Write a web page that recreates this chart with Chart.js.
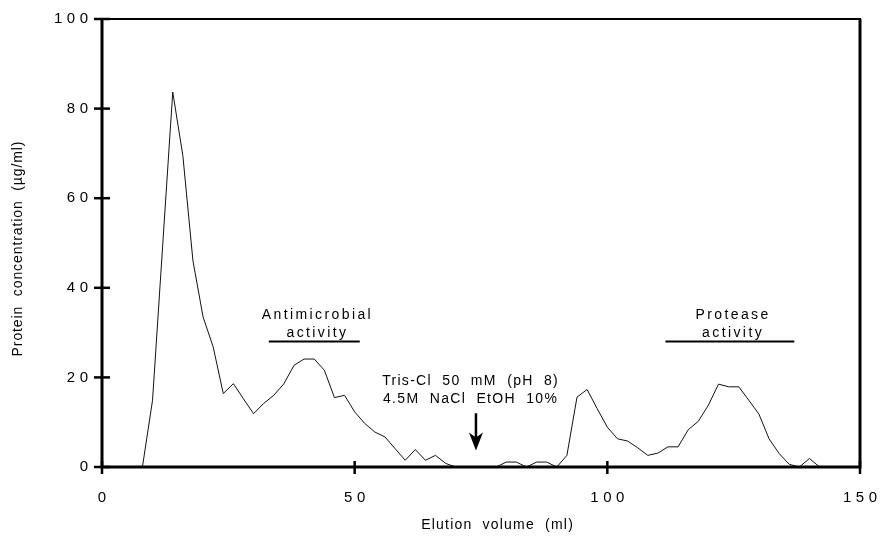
<!DOCTYPE html>
<html>
<head>
<meta charset="utf-8">
<script src="https://cdn.jsdelivr.net/npm/chart.js@4.4.0/dist/chart.umd.min.js"></script>
<style>
  html, body { margin: 0; padding: 0; background: #fff; }
</style>
</head>
<body>
<canvas id="elutionChart" width="885" height="538"></canvas>
<script>
// elution profile
const volumes = [8, 10, 12, 14, 16, 18, 20, 22, 24, 26, 28, 30, 32, 34, 36, 38, 40, 42, 44, 46,
    48, 50, 52, 54, 56, 58, 60, 62, 64, 66, 68, 70, 72, 74, 76, 78, 80, 82, 84, 86,
    88, 90, 92, 94, 96, 98, 100, 102, 104, 106, 108, 110, 112, 114, 116, 118, 120, 122, 124, 126,
    128, 130, 132, 134, 136, 138, 140, 142];
const protein = [0, 14.9, 49.3, 83.7, 69.5, 46, 33.5, 26.8, 16.4, 18.6, 15.2, 11.9, 14.2, 16, 18.6, 22.7, 24.1, 24.1, 21.6, 15.5,
    16, 12.3, 9.7, 7.8, 6.7, 4.1, 1.5, 3.9, 1.5, 2.6, 0.8, 0, 0, 0, 0, 0, 1.1, 1.1, 0, 1.1,
    1.1, 0, 2.6, 15.6, 17.3, 13, 8.9, 6.3, 5.8, 4.3, 2.6, 3.1, 4.5, 4.5, 8.3, 10.2, 13.8, 18.5, 17.9, 17.9,
    14.9, 11.8, 6.3, 3, 0.6, 0, 1.9, 0];

const xTicks = [0, 50, 100, 150];
const yTicks = [0, 20, 40, 60, 80, 100];

const activityNames = [['Antimicrobial', 'activity'], ['Protease', 'activity']];
const activityFrom = [33, 111.5];
const activityTo = [51, 137];

const bufferLines = ['Tris-Cl  50  mM  (pH  8)', '4.5M  NaCl  EtOH  10%'];
const bufferVolume = 74;

function spacedText(ctx, text, x, y, spacing, align) {
    ctx.letterSpacing = spacing + 'px';
    const w = ctx.measureText(text).width - spacing;
    let sx = x;
    if (align === 'center') sx = x - w / 2;
    if (align === 'right') sx = x - w;
    ctx.textAlign = 'left';
    ctx.fillText(text, sx, y);
    ctx.letterSpacing = '0px';
}

const figurePlugin = {
    id: 'figure',
    afterDraw(chart) {
        const ctx = chart.ctx;
        const a = chart.chartArea;
        const xs = chart.scales.x;
        const ys = chart.scales.y;
        ctx.save();
        ctx.strokeStyle = '#000';
        ctx.fillStyle = '#000';

        // frame
        ctx.lineWidth = 3;
        ctx.beginPath();
        ctx.moveTo(a.left, a.top);
        ctx.lineTo(a.left, a.bottom);
        ctx.lineTo(a.right, a.bottom);
        ctx.lineTo(a.right, a.top);
        ctx.stroke();
        ctx.lineWidth = 2;
        ctx.beginPath();
        ctx.moveTo(a.left - 1, a.top);
        ctx.lineTo(a.right + 1, a.top);
        ctx.stroke();

        // ticks crossing the axes
        ctx.lineWidth = 2.5;
        xTicks.forEach(v => {
            const px = xs.getPixelForValue(v);
            ctx.beginPath();
            ctx.moveTo(px, a.bottom - 6);
            ctx.lineTo(px, a.bottom + 7);
            ctx.stroke();
        });
        yTicks.forEach(v => {
            const py = ys.getPixelForValue(v);
            ctx.beginPath();
            ctx.moveTo(a.left - 8, py);
            ctx.lineTo(a.left + 8, py);
            ctx.stroke();
        });

        // tick labels
        ctx.font = '15px "Liberation Sans", Arial, sans-serif';
        ctx.textBaseline = 'middle';
        yTicks.forEach(v => {
            spacedText(ctx, String(v), a.left - 14, ys.getPixelForValue(v), 4.5, 'right');
        });
        xTicks.forEach(v => {
            spacedText(ctx, String(v), xs.getPixelForValue(v), a.bottom + 31, 4.5, 'center');
        });

        // axis titles
        ctx.font = '14px "Liberation Sans", Arial, sans-serif';
        spacedText(ctx, 'Elution  volume  (ml)', (a.left + a.right) / 2 + 16, a.bottom + 58, 1.2, 'center');
        ctx.save();
        ctx.translate(18, (a.top + a.bottom) / 2 + 6);
        ctx.rotate(-Math.PI / 2);
        spacedText(ctx, 'Protein  concentration  (\u00b5g/ml)', 0, 0, 0.9, 'center');
        ctx.restore();

        // activity bands
        ctx.font = '14px "Liberation Sans", Arial, sans-serif';
        activityNames.forEach((lines, i) => {
            const x1 = xs.getPixelForValue(activityFrom[i]);
            const x2 = xs.getPixelForValue(activityTo[i]);
            const yb = ys.getPixelForValue(28);
            ctx.lineWidth = 2;
            ctx.beginPath();
            ctx.moveTo(x1, yb);
            ctx.lineTo(x2, yb);
            ctx.stroke();
            const cx = (x1 + x2) / 2 + 2;
            spacedText(ctx, lines[0], cx, yb - 26, 2.4, 'center');
            spacedText(ctx, lines[1], cx, yb - 8, 2.4, 'center');
        });

        // buffer change marker
        const bx = xs.getPixelForValue(bufferVolume);
        spacedText(ctx, bufferLines[0], bx - 6, ys.getPixelForValue(19.2), 1.3, 'center');
        spacedText(ctx, bufferLines[1], bx - 6, ys.getPixelForValue(15.2), 1.3, 'center');
        const tip = ys.getPixelForValue(3.7);
        const top = ys.getPixelForValue(12);
        ctx.lineWidth = 2.5;
        ctx.beginPath();
        ctx.moveTo(bx, top);
        ctx.lineTo(bx, tip - 8);
        ctx.stroke();
        ctx.beginPath();
        ctx.moveTo(bx, tip);
        ctx.lineTo(bx - 7, tip - 18);
        ctx.lineTo(bx, tip - 13);
        ctx.lineTo(bx + 7, tip - 18);
        ctx.closePath();
        ctx.fill();

        ctx.restore();
    }
};

new Chart(document.getElementById('elutionChart').getContext('2d'), {
    type: 'line',
    data: {
        datasets: [{
            data: volumes.map((v, i) => ({ x: v, y: protein[i] })),
            borderColor: '#111',
            borderWidth: 1,
            pointRadius: 0,
            tension: 0,
            fill: false,
            clip: false,
        }],
    },
    options: {
        responsive: false,
        animation: false,
        layout: { padding: { top: 19, right: 25, left: 0, bottom: 0 } },
        plugins: { legend: { display: false }, tooltip: { enabled: false } },
        scales: {
            x: {
                type: 'linear', min: 0, max: 150,
                ticks: { display: false },
                grid: { display: false },
                border: { display: false },
                afterFit: s => { s.height = 71; },
            },
            y: {
                min: 0, max: 100,
                ticks: { display: false },
                grid: { display: false },
                border: { display: false },
                afterFit: s => { s.width = 102; },
            },
        },
    },
    plugins: [figurePlugin],
});
</script>
</body>
</html>
